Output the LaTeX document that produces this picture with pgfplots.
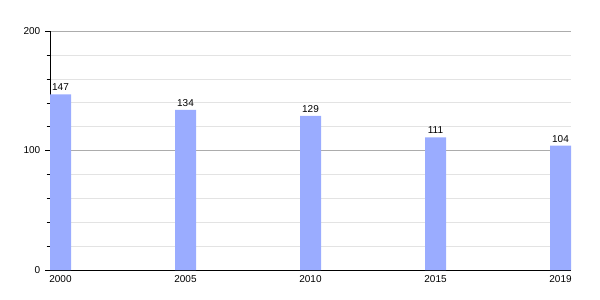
\documentclass[border=0pt]{standalone}
\usepackage{fontspec}
\setmainfont{Liberation Sans}
\usepackage{pgfplots}
\pgfplotsset{compat=1.18}
\definecolor{barblue}{RGB}{154,172,255}
\begin{document}
\begin{tikzpicture}[x=1pt,y=1pt]
\begin{axis}[
  name=ax,
  scale only axis,
  width=390.75pt, height=179.25pt,
  xmin=-0.084, xmax=4.084,
  ymin=0, ymax=200,
  axis x line*=bottom, axis y line*=left,
  axis line style={black,-},
  xtick=data,
  xticklabels={2000,2005,2010,2015,2019},
  x tick style={draw=none},
  ytick={0,100,200},
  minor y tick num=4,
  tick align=outside,
  major tick length=3.75pt,
  minor tick length=2.5pt,
  y tick style={black},
  ymajorgrids, yminorgrids,
  major grid style={gray!65},
  minor grid style={gray!22},
  tick label style={font=\fontsize{7.5}{9}\selectfont},
  /pgf/number format/assume math mode=true,
  xticklabel style={yshift=3pt},
  ybar, bar width=15.75pt, bar shift=0pt,
  nodes near coords,
  every node near coord/.append style={font=\fontsize{7.5}{9}\selectfont, inner sep=2.5pt},
]
\addplot[fill=barblue, draw=none] coordinates {(0,147) (1,134) (2,129) (3,111) (4,104)};
\end{axis}
\path[use as bounding box] ([xshift=-37.5pt,yshift=-22.5pt]ax.south west) rectangle ([xshift=412.5pt,yshift=23.25pt]ax.north west);
\end{tikzpicture}
\end{document}
